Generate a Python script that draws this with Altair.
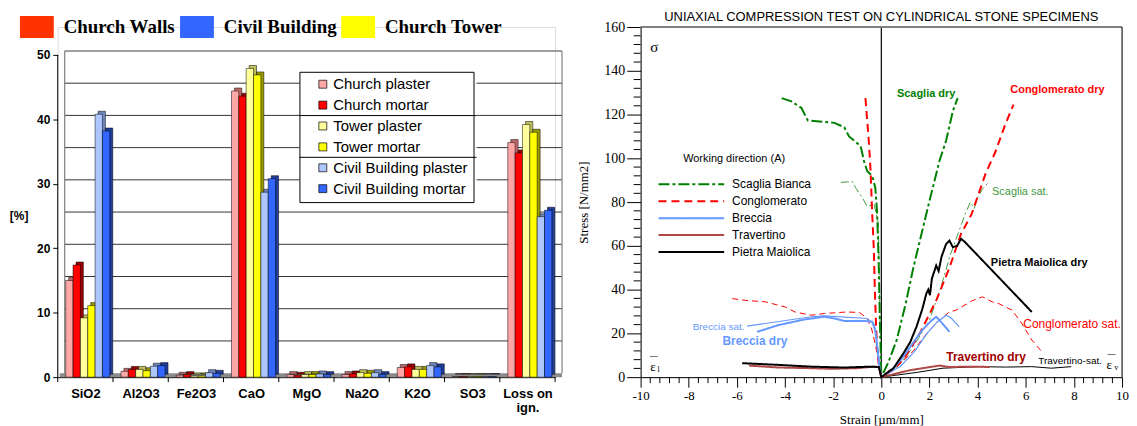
import altair as alt
import pandas as pd

# ---------------- LEFT: oxide composition ----------------
categories = ["SiO2", "Al2O3", "Fe2O3", "CaO", "MgO", "Na2O", "K2O", "SO3", "Loss on ign."]
series = ["Church plaster", "Church mortar", "Tower plaster", "Tower mortar",
          "Civil Building plaster", "Civil Building mortar"]
church_plaster = [15.0, 0.9, 0.3, 44.4, 0.4, 0.4, 1.5, 0.1, 36.4]
church_mortar = [17.4, 1.2, 0.4, 43.6, 0.3, 0.5, 1.6, 0.1, 34.8]
tower_plaster = [9.2, 1.2, 0.2, 47.9, 0.4, 0.7, 1.2, 0.1, 39.2]
tower_mortar = [11.1, 1.0, 0.2, 46.9, 0.4, 0.6, 1.2, 0.1, 38.0]
civil_plaster = [40.8, 1.7, 0.7, 28.7, 0.5, 0.7, 1.8, 0.1, 24.9]
civil_mortar = [38.2, 1.8, 0.6, 30.8, 0.4, 0.4, 1.6, 0.1, 25.9]
series_values = [church_plaster, church_mortar, tower_plaster, tower_mortar, civil_plaster, civil_mortar]
series_colors = ["#ffa6a6", "#ff0000", "#ffff9c", "#ffff00", "#adc6ff", "#3366ff"]
shade_colors = ["#c06a6a", "#990000", "#bdbd5c", "#999900", "#6f87bd", "#1f3d99"]
groups = ["Church Walls", "Civil Building", "Church Tower"]
group_colors = ["#ff3300", "#3366ff", "#ffff00"]
pct_ticks = list(range(0, 51, 5))

rows = []
for j, s in enumerate(series):
    for i, c in enumerate(categories):
        x0 = i + 0.144 + j * 0.133
        rows.append(dict(cat=c, series=s, v=series_values[j][i], x0=x0, x1=x0 + 0.133, zero=0))
bars = pd.DataFrame(rows)

W1, H1 = 500, 352
xs1 = alt.Scale(domain=[0, len(categories)], nice=False, zero=False, padding=0)
ys1 = alt.Scale(domain=[0, 54.33], nice=False, padding=0)
SANS = "Liberation Sans"
SERIF = "Liberation Serif"

lab_arr = "[" + ",".join(
    ("['Loss on','ign.']" if c == "Loss on ign." else "'" + c + "'") for c in categories) + "]"

base1 = alt.Chart(bars)
shadow = base1.mark_rect(xOffset=3, x2Offset=3, yOffset=-3, y2Offset=-3,
                         stroke="black", strokeWidth=0.5).encode(
    x=alt.X("x0:Q", scale=xs1),
    x2="x1",
    y=alt.Y("v:Q", scale=ys1),
    y2="zero",
    color=alt.Color("series:N", scale=alt.Scale(domain=series, range=shade_colors), legend=None),
)
main = base1.mark_rect(stroke="black", strokeWidth=0.5).encode(
    x=alt.X("x0:Q", scale=xs1, title=None,
            axis=alt.Axis(values=[i + 0.5 for i in range(len(categories))], labelExpr=lab_arr + "[floor(datum.value)]",
                          tickSize=0, grid=False, domainColor="black", labelFont=SANS, labelFontWeight="bold",
                          labelFontSize=13, labelPadding=10, labelColor="black", labelAngle=0, labelFlush=False)),
    x2="x1",
    y=alt.Y("v:Q", scale=ys1,
            axis=alt.Axis(values=pct_ticks, tickSize=5, grid=False, domain=False, tickColor="black",
                          labelFont=SANS, labelFontWeight="bold", labelFontSize=12, labelPadding=3,
                          labelColor="black", labelFlush=False, title="[%]", titleAngle=0, titleFont=SANS,
                          titleFontWeight="bold", titleFontSize=12, titleX=-30, titleY=190, titleAlign="right",
                          titleBaseline="middle", titleColor="black")),
    y2="zero",
    color=alt.Color("series:N", scale=alt.Scale(domain=series, range=series_colors),
                    legend=alt.Legend(orient="none", legendX=243, legendY=45, title=None, symbolType="square",
                                      symbolSize=64, symbolStrokeColor="black", symbolStrokeWidth=0.7,
                                      labelFont=SANS, labelFontSize=15, labelColor="black", strokeColor="black",
                                      padding=5, symbolOffset=11, rowPadding=5, labelOffset=3)),
)
grp_df = pd.DataFrame({"group": groups})
top_legend = alt.Chart(grp_df).mark_square(opacity=0).encode(
    x=alt.value(0), y=alt.value(0),
    color=alt.Color("group:N", scale=alt.Scale(domain=groups, range=group_colors),
                    legend=alt.Legend(orient="none", legendX=-38, legendY=-17, direction="horizontal", title=None,
                                      symbolType="M-1,-0.647L1,-0.647L1,0.647L-1,0.647Z", symbolSize=1156,
                                      symbolOpacity=1, symbolStrokeWidth=0, labelFont=SERIF, labelFontSize=19,
                                      labelFontWeight="bold", labelColor="black", labelOffset=10,
                                      columnPadding=4, padding=0)),
)
grid_df = pd.DataFrame({"g": pct_ticks[1:-1]})
grid = alt.Chart(grid_df).mark_rule(color="black", strokeWidth=0.8, yOffset=-4).encode(
    y=alt.Y("g:Q", scale=ys1), x=alt.value(7), x2=alt.value(W1 + 7))
topgrid = alt.Chart(pd.DataFrame({"g": [pct_ticks[-1]]})).mark_rule(color="#808080", strokeWidth=1.5, yOffset=-4).encode(
    y=alt.Y("g:Q", scale=ys1), x=alt.value(7), x2=alt.value(W1 + 7))
walls = alt.Chart(pd.DataFrame({"a": [0, 0], "b": [50, 50], "px": [7, W1 + 7]})).mark_rule(
    color="#808080", strokeWidth=1.2, yOffset=-4, y2Offset=-4).encode(
    x=alt.X("px:Q", scale=None), y=alt.Y("a:Q", scale=ys1), y2="b")
yline = alt.Chart(pd.DataFrame({"a": [0], "b": [50]})).mark_rule(color="black", strokeWidth=1).encode(
    x=alt.value(0), y=alt.Y("a:Q", scale=ys1), y2="b")
floor = alt.Chart(pd.DataFrame({"a": [0]})).mark_rule(color="#8c8c8c", strokeWidth=4, yOffset=-2).encode(
    y=alt.Y("a:Q", scale=ys1), x=alt.value(2), x2=alt.value(W1 + 7))
bticks = alt.Chart(pd.DataFrame({"b": list(range(len(categories) + 1))})).mark_rule(color="black").encode(
    x=alt.X("b:Q", scale=xs1), y=alt.value(H1), y2=alt.value(H1 + 5))
# white backing of the legend box and its group separators (pixel positions of the box)
box = alt.Chart(pd.DataFrame({"z": [0]})).mark_rect(color="white").encode(
    x=alt.value(243), x2=alt.value(421), y=alt.value(45), y2=alt.value(175))
seps = alt.Chart(pd.DataFrame({"py": [89, 131]})).mark_rule(color="black", strokeWidth=1).encode(
    y=alt.Y("py:Q", scale=None), x=alt.value(243), x2=alt.value(421))

left = alt.layer(grid, topgrid, walls, floor, shadow, main, top_legend, yline, bticks).resolve_scale(
    color="independent")
left = alt.layer(left, box, seps).properties(width=W1, height=H1)

# ---------------- RIGHT: stress-strain curves ----------------
stones = ["Scaglia Bianca", "Conglomerato", "Breccia", "Travertino", "Pietra Maiolica"]
stone_colors = ["#008000", "#ff0000", "#6699ff", "#b04848", "#000000"]
stone_dashes = [[11, 3, 3, 3], [8, 5], [1, 0], [1, 0], [1, 0]]
stone_widths = [2, 2, 4, 1.5, 2]

scaglia_dry_x = [-4.14, -3.73, -3.32, -3.11, -3.05, -1.95, -1.54, -1.34, -0.86, -0.72, -0.59, -0.38, -0.25,
                 -0.18, -0.11, -0.07, 0.0, 0.3, 0.64, 1.0, 1.33, 2.01, 2.42, 2.69, 2.97, 3.17]
scaglia_dry_y = [127.5, 126, 123, 118.5, 117.3, 116.2, 114.2, 110, 105.6, 98.8, 94.2, 92, 86.6,
                 76, 53, 30.6, 0.0, 7, 17, 33, 50, 81, 99, 108, 121.5, 127.5]
scaglia_sat_x = [-1.68, -1.2, -1.07, -0.79, -0.59, -0.3, -0.12, -0.08, 0.0, 0.5, 1.0, 1.5, 2.0, 2.5, 2.84,
                 3.2, 3.5, 3.7, 3.85, 4.0, 4.2, 4.45]
scaglia_sat_y = [89, 89.4, 86.6, 82, 78, 79, 70, 40, 0.0, 3, 9, 17, 26, 42, 55, 66, 75, 80, 77, 82, 86, 89]
congl_dry_x = [-0.66, -0.52, -0.45, -0.38, -0.31, -0.27, -0.22, -0.18, -0.1, 0.0, 0.92, 1.6, 2.28, 2.83,
               3.31, 3.75, 4.33, 4.74, 5.15, 5.49]
congl_dry_y = [127.5, 108, 95, 75, 58, 40, 24, 14, 5, 0.0, 8, 20, 35, 50, 65.5, 74.5, 93, 103, 115.5, 124.5]
congl_sat_x = [-6.19, -5.64, -4.82, -4.0, -3.59, -2.91, -2.36, -1.41, -0.9, -0.6, -0.4, -0.25, 0.0, 0.5,
               1.33, 1.74, 2.3, 2.83, 3.1, 3.79, 4.2, 4.61, 4.88, 5.43, 5.84, 6.25, 6.66]
congl_sat_y = [35.9, 35.1, 34.4, 32.1, 29.8, 28.3, 29.1, 29.8, 29.5, 27, 22, 15, 0.0, 3,
               12, 18, 25, 29.8, 30.6, 35, 36.7, 34.4, 33.6, 30.6, 24.5, 17, 11.7]
breccia_dry_x = [-5.16, -4.27, -3.18, -2.36, -1.95, -1.54, -0.72, -0.38, -0.25, -0.15, -0.08, 0.0,
                 0.5, 0.92, 1.4, 1.74, 2.05, 2.28, 2.5, 2.83]
breccia_dry_y = [20.7, 23.8, 26.4, 27.6, 26.8, 25.7, 25.7, 25.3, 21.5, 12, 5, 0.0,
                 4, 9.4, 17, 22, 25.5, 27.6, 25, 20.7]
breccia_sat_x = [-5.57, -2.91, -2.36, -0.59, -0.31, -0.2, -0.1, 0.0, 0.8, 1.4, 1.9, 2.3, 2.69, 2.9, 3.24]
breccia_sat_y = [23.3, 27.6, 28, 26.8, 24.5, 18, 8, 0.0, 5, 12, 20, 25, 28.3, 27, 23]
trav_dry_x = [-5.5, -4.27, -2.91, -2.09, -1.0, -0.31, -0.1, 0.0, 1.2, 2.42, 2.83, 3.5, 4.06, 4.5]
trav_dry_y = [5.3, 4.4, 4.1, 3.8, 4.1, 4.8, 4.6, 0.0, 3.2, 5.3, 4.6, 4.8, 4.8, 4.6]
trav_sat_x = [0.0, 1.5, 2.56, 4.06, 5.2, 6.25, 7.07, 7.89]
trav_sat_y = [0.0, 2.2, 4.1, 4.8, 4.6, 4.8, 4.1, 4.8]
maiolica_x = [-5.78, -4.27, -2.91, -1.54, -0.45, -0.1, 0.0, 0.5, 0.92, 1.2, 1.46, 1.7, 1.87, 1.95, 2.02,
              2.1, 2.28, 2.38, 2.5, 2.69, 2.83, 2.97, 3.15, 3.31, 3.45, 6.25]
maiolica_y = [6.4, 5.6, 4.8, 4.4, 4.8, 4.6, 0.0, 4, 10.9, 16, 23, 31, 38.2, 40, 37.5,
              45, 51, 48.5, 55, 60.8, 62.4, 59.4, 60, 63.2, 62, 29.8]

curves = [
    ("Scaglia dry", "Scaglia Bianca", "dry", scaglia_dry_x, scaglia_dry_y),
    ("Conglomerato dry", "Conglomerato", "dry", congl_dry_x, congl_dry_y),
    ("Breccia dry", "Breccia", "dry", breccia_dry_x, breccia_dry_y),
    ("Travertino dry", "Travertino", "dry", trav_dry_x, trav_dry_y),
    ("Pietra Maiolica dry", "Pietra Maiolica", "dry", maiolica_x, maiolica_y),
    ("Scaglia sat", "Scaglia Bianca", "sat", scaglia_sat_x, scaglia_sat_y),
    ("Conglomerato sat", "Conglomerato", "sat", congl_sat_x, congl_sat_y),
    ("Breccia sat", "Breccia", "sat", breccia_sat_x, breccia_sat_y),
    ("Travertino sat", "Travertino", "sat", trav_sat_x, trav_sat_y),
]
crow = []
for name, stone, kind, cx, cy in curves:
    for k, (a, b) in enumerate(zip(cx, cy)):
        crow.append(dict(name=name, stone=stone, kind=kind, idx=k, x=a, y=b))
cdf = pd.DataFrame(crow)

W2, H2 = 484, 352
xs2 = alt.Scale(domain=[-10, 10], nice=False, zero=False, padding=0)
ys2 = alt.Scale(domain=[0, 160], nice=False, padding=0)
strain_ticks = list(range(-10, 11, 2))
stress_ticks = list(range(0, 161, 20))
strain_minor = [round(-10 + 0.4 * k, 1) for k in range(51) if round((-10 + 0.4 * k) / 2, 3) % 1 != 0]
stress_minor = [v for v in range(0, 161, 4) if v % 20]

leg = alt.Legend(orient="none", legendX=17, legendY=127, title="Working direction (A)", titleFont=SANS,
                 titleFontSize=11, titleFontWeight="normal", titleColor="black", titleAnchor="middle",
                 titlePadding=12, symbolType="stroke", symbolSize=4356, labelFont=SANS, labelFontSize=12,
                 labelColor="black", labelOffset=7, clipHeight=16.3, rowPadding=0, padding=0)
dry = alt.Chart(cdf[cdf.kind == "dry"]).mark_line().encode(
    x=alt.X("x:Q", scale=xs2,
            axis=alt.Axis(values=strain_ticks, labelExpr="'' + datum.value", tickSize=10, grid=False,
                          domainColor="black", tickColor="black", labelFont=SERIF, labelFontSize=13,
                          labelColor="black", labelPadding=2, labelFlush=False, title="Strain [µm/mm]",
                          titleFont=SERIF, titleFontSize=13, titleFontWeight="normal", titleColor="black",
                          titlePadding=12)),
    y=alt.Y("y:Q", scale=ys2,
            axis=alt.Axis(values=stress_ticks, tickSize=14, grid=False, domainColor="black", tickColor="black",
                          labelFont=SERIF, labelFontSize=14, labelColor="black", labelPadding=2, labelFlush=False,
                          title="Stress [N/mm2]", titleFont=SERIF, titleFontSize=13, titleFontWeight="normal",
                          titleColor="black", titlePadding=13)),
    color=alt.Color("stone:N", scale=alt.Scale(domain=stones, range=stone_colors), legend=leg),
    strokeDash=alt.StrokeDash("stone:N", scale=alt.Scale(domain=stones, range=stone_dashes), legend=leg),
    strokeWidth=alt.StrokeWidth("stone:N", scale=alt.Scale(domain=stones, range=stone_widths), legend=leg),
    order="idx:Q",
)
sat_styles = {
    "Scaglia sat": dict(color="#3f9a3f", strokeDash=[8, 3, 2, 3], strokeWidth=1),
    "Conglomerato sat": dict(color="#ff0000", strokeDash=[6, 4], strokeWidth=1),
    "Breccia sat": dict(color="#6699ff", strokeWidth=1.2),
    "Travertino sat": dict(color="#000000", strokeWidth=1),
}
sat_layers = [alt.Chart(cdf[cdf.name == n]).mark_line(**st).encode(
    x=alt.X("x:Q", scale=xs2), y=alt.Y("y:Q", scale=ys2), order="idx:Q") for n, st in sat_styles.items()]

labels = [
    ("Scaglia dry", 0.65, 129.5, "#008000", "bold", 11, "left"),
    ("Conglomerato dry", 5.36, 131, "#ff0000", "bold", 11, "left"),
    ("Scaglia sat.", 4.6, 84.6, "#3f9a3f", "normal", 11, "left"),
    ("Pietra Maiolica dry", 4.55, 52.3, "#000000", "bold", 11, "left"),
    ("Conglomerato sat.", 5.9, 24.5, "#ff0000", "normal", 12, "left"),
    ("Breccia sat.", -5.68, 23.0, "#6699ff", "normal", 10, "right"),
    ("Breccia dry", -6.6, 16.5, "#6699ff", "bold", 12, "left"),
    ("Travertino dry", 2.7, 9.0, "#a00000", "bold", 12, "left"),
    ("Travertino-sat.", 6.52, 7.6, "#000000", "normal", 10, "left"),
    ("σ", -9.6, 151, "#000000", "normal", 15, "left"),
    ("ε", -9.6, 4.7, "#000000", "normal", 13, "left"),
    ("l", -9.3, 3.3, "#000000", "normal", 8, "left"),
    ("—", -9.62, 9.6, "#000000", "normal", 8, "left"),
    ("ε", 9.35, 5.6, "#000000", "normal", 13, "left"),
    ("v", 9.68, 4.0, "#000000", "normal", 8, "left"),
    ("—", 9.4, 10.8, "#000000", "normal", 8, "left"),
]
label_layers = []
for t, lx, ly, col, fw, fs, al in labels:
    fnt = SERIF if t in ("σ", "ε", "l", "v", "—") else SANS
    label_layers.append(alt.Chart(pd.DataFrame({"t": [t], "x": [lx], "y": [ly]})).mark_text(
        color=col, fontWeight=fw, fontSize=fs, align=al, baseline="middle", font=fnt).encode(
        x=alt.X("x:Q", scale=xs2), y=alt.Y("y:Q", scale=ys2), text="t:N"))

zero_line = alt.Chart(pd.DataFrame({"z": [0]})).mark_rule(color="black", strokeWidth=1.2).encode(
    x=alt.X("z:Q", scale=xs2), y=alt.value(0), y2=alt.value(H2))
frame_top = alt.Chart(pd.DataFrame({"z": [0]})).mark_rule(color="#808080", strokeWidth=2).encode(
    y=alt.value(0), x=alt.value(0), x2=alt.value(W2))
frame_right = alt.Chart(pd.DataFrame({"z": [0]})).mark_rule(color="black", strokeWidth=1).encode(
    x=alt.value(W2), y=alt.value(0), y2=alt.value(H2))
xminor = alt.Chart(pd.DataFrame({"t": strain_minor})).mark_rule(color="black").encode(
    x=alt.X("t:Q", scale=xs2), y=alt.value(H2), y2=alt.value(H2 + 6))
yminor = alt.Chart(pd.DataFrame({"t": stress_minor})).mark_rule(color="black").encode(
    y=alt.Y("t:Q", scale=ys2), x=alt.value(0), x2=alt.value(-7))

right = alt.layer(zero_line, frame_top, frame_right, xminor, yminor, *sat_layers, dry, *label_layers).properties(
    width=W2, height=H2,
    title=alt.TitleParams("UNIAXIAL COMPRESSION TEST ON CYLINDRICAL STONE SPECIMENS", font=SANS, fontSize=13,
                          fontWeight="normal", color="black", offset=-4, anchor="middle"))

chart = alt.hconcat(left, right, spacing=12).resolve_scale(
    color="independent", strokeDash="independent", strokeWidth="independent").resolve_legend(
    color="independent", strokeDash="independent", strokeWidth="independent").properties(
    padding=0).configure_view(stroke="transparent").configure(font=SANS)
chart.save("out.html", embed_options={"renderer": "svg", "actions": False})
